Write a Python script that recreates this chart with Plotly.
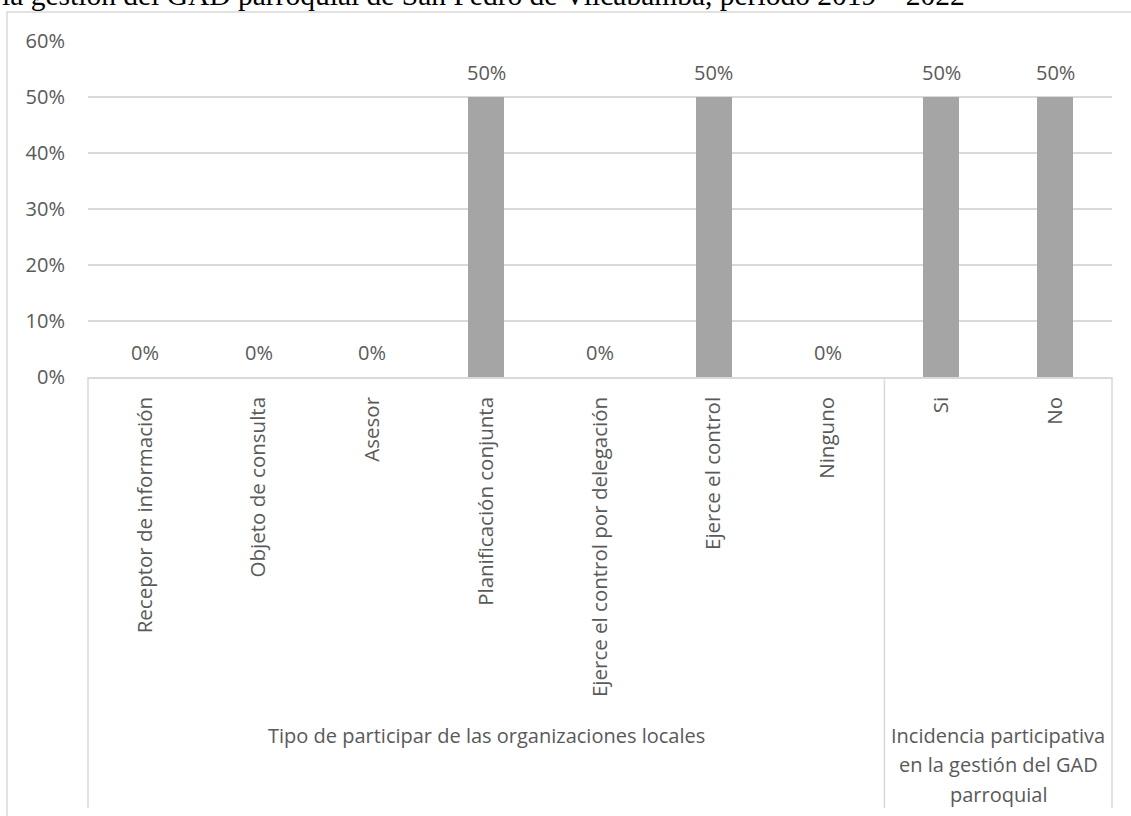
import plotly.graph_objects as go

categories = ["Receptor de información", "Objeto de consulta", "Asesor",
              "Planificación conjunta", "Ejerce el control por delegación",
              "Ejerce el control", "Ninguno", "Si", "No"]
values = [0.0, 0.0, 0.0, 0.5, 0.0, 0.5, 0.0, 0.5, 0.5]
group_labels = ["Tipo de participar de las organizaciones locales",
                "Incidencia participativa<br>en la gestión del GAD<br>parroquial"]
group_centers = [3, 7.5]
group_divider = 6.5
title_text = "la gestión del GAD parroquial de San Pedro de Vilcabamba, período 2019 – 2022"

TXT = "#595959"
GRID = "#d9d9d9"
FONT = "Open Sans"

fig = go.Figure()
fig.add_trace(go.Bar(x=categories, y=values, width=0.316,
                     marker=dict(color="#a5a5a5", line=dict(width=0)),
                     hoverinfo="skip"))

annotations = []
for c, v in zip(categories, values):
    annotations.append(dict(x=c, y=v, xref="x", yref="y", text=f"{v:.0%}",
                            showarrow=False, yanchor="middle", yshift=25,
                            font=dict(family=FONT, size=20, color=TXT)))
for lab, cx in zip(group_labels, group_centers):
    for i, line in enumerate(lab.split("<br>")):
        annotations.append(dict(x=cx, y=-1.066, xref="x", yref="paper", text=line,
                                showarrow=False, yanchor="middle", xanchor="center",
                                yshift=-29.5 * i,
                                font=dict(family=FONT, size=20, color=TXT)))
annotations.append(dict(x=-0.0859, y=1.083, xref="paper", yref="paper",
                        text=title_text, showarrow=False, xanchor="left",
                        yanchor="bottom",
                        font=dict(family="Liberation Serif, Times New Roman, serif",
                                  size=29.5, color="#000000")))

shapes = [
    # outer chart frame
    dict(type="rect", xref="paper", yref="paper", x0=-0.0791, x1=1.03,
         y0=-1.35, y1=1.0863, line=dict(color=GRID, width=1.5), layer="below"),
    # category area dividers
    dict(type="line", xref="paper", yref="paper", x0=0, x1=0, y0=0, y1=-1.283,
         line=dict(color=GRID, width=1.5)),
    dict(type="line", xref="paper", yref="paper", x0=1, x1=1, y0=0, y1=-1.283,
         line=dict(color=GRID, width=1.5)),
    dict(type="line", xref="x", yref="paper", x0=group_divider, x1=group_divider,
         y0=0, y1=-1.283, line=dict(color=GRID, width=1.5)),
]

fig.update_layout(
    width=1131, height=816,
    margin=dict(l=88, r=19, t=41, b=439, autoexpand=False),
    paper_bgcolor="white", plot_bgcolor="white",
    showlegend=False,
    bargap=0,
    font=dict(family=FONT, size=20, color=TXT),
    annotations=annotations,
    shapes=shapes,
)
fig.update_xaxes(type="category", tickangle=-90, showgrid=False, zeroline=False,
                 showline=True, linecolor=GRID, linewidth=1.5,
                 ticks="outside", ticklen=0, ticklabelstandoff=10,
                 tickfont=dict(family=FONT, size=20.5, color=TXT),
                 automargin=False, fixedrange=True)
fig.update_yaxes(range=[0, 0.6], dtick=0.1, tickformat=".0%", showgrid=True,
                 gridcolor=GRID, gridwidth=1.5, zeroline=False, showline=False,
                 ticks="", ticklabelstandoff=22,
                 tickfont=dict(family=FONT, size=20, color=TXT),
                 automargin=False, fixedrange=True)

fig.write_html("out.html", config={"displayModeBar": False},
               post_script="document.body.style.margin='0';"
                           "document.body.style.overflow='hidden';")
